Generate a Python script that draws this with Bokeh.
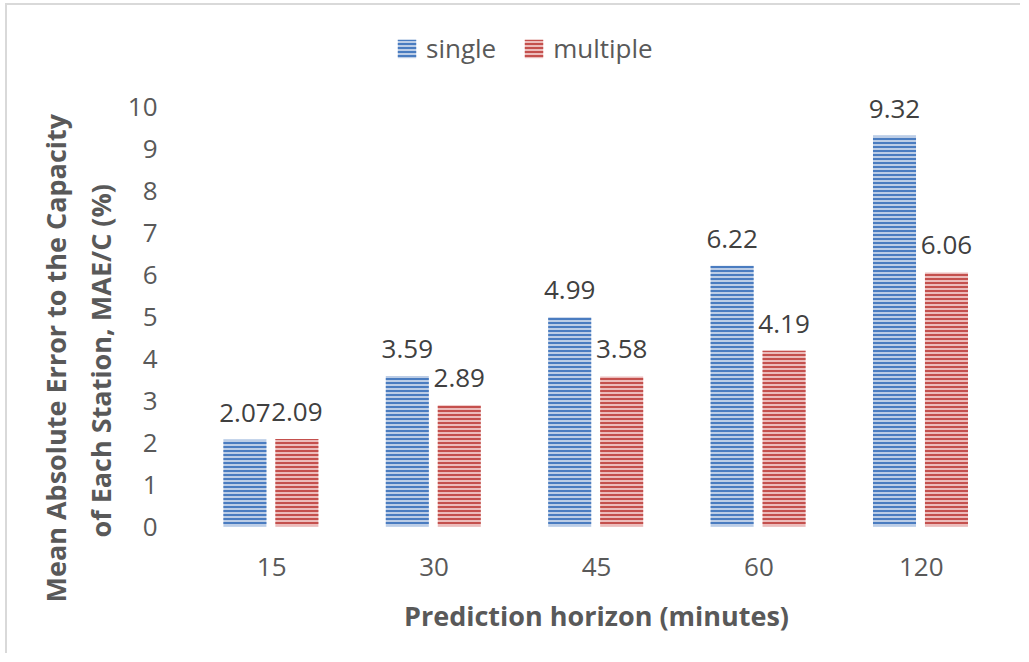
from bokeh.plotting import figure
from bokeh.models import (ColumnDataSource, FactorRange, Range1d, LabelSet, Legend,
                          LegendItem, Title, FixedTicker)
from bokeh.transform import dodge
from bokeh.core.properties import value
from bokeh.embed import file_html
from bokeh.resources import INLINE

categories = ["15", "30", "45", "60", "120"]
single = [2.07, 3.59, 4.99, 6.22, 9.32]
multiple = [2.09, 2.89, 3.58, 4.19, 6.06]
series_names = ["single", "multiple"]
y_ticks = [0, 1, 2, 3, 4, 5, 6, 7, 8, 9, 10]

FONT = "Open Sans"

src = ColumnDataSource(dict(
    cat=categories,
    single=single,
    multiple=multiple,
    single_txt=[f"{v:.2f}" for v in single],
    multiple_txt=[f"{v:.2f}" for v in multiple],
))

p = figure(width=1020, height=653, output_backend="svg", toolbar_location=None,
           x_range=FactorRange(*categories, range_padding=0), y_range=Range1d(0, 12),
           min_border_left=190, min_border_right=18, min_border_top=23, min_border_bottom=127)
p.x_range.factor_padding = 0

p.outline_line_color = None
p.xgrid.grid_line_color = None
p.ygrid.grid_line_color = None
p.border_fill_color = None
p.background_fill_color = None

blue_fill, blue_hatch = "#bccde6", "#4a7cc0"
red_fill, red_hatch = "#ecbcbb", "#c4504d"

r1 = p.vbar(x=dodge("cat", -0.165, range=p.x_range), top="single", width=0.265, source=src,
            fill_color=blue_fill, line_color=None, hatch_pattern="-", hatch_color=blue_hatch,
            hatch_scale=4, hatch_weight=2)
r2 = p.vbar(x=dodge("cat", 0.155, range=p.x_range), top="multiple", width=0.265, source=src,
            fill_color=red_fill, line_color=None, hatch_pattern="-", hatch_color=red_hatch,
            hatch_scale=4, hatch_weight=2)

for off, col in [(-0.165, "single_txt"), (0.155, "multiple_txt")]:
    top = col.replace("_txt", "")
    ls = LabelSet(x=dodge("cat", off, range=p.x_range), y=top, text=col, source=src,
                  text_align="center", text_baseline="alphabetic", y_offset=18,
                  text_font=value(FONT), text_font_size="26px", text_color="#404040")
    p.add_layout(ls)

# axes
for ax in (p.xaxis[0], p.yaxis[0]):
    ax.axis_line_color = None
    ax.major_tick_line_color = None
    ax.minor_tick_line_color = None
    ax.major_label_text_font = FONT
    ax.major_label_text_font_size = "26px"
    ax.major_label_text_color = "#595959"

p.yaxis.ticker = FixedTicker(ticks=y_ticks)
p.yaxis.major_label_standoff = 27
p.xaxis.major_label_standoff = 25
p.xaxis.axis_label = "Prediction horizon (minutes)"
p.xaxis.axis_label_text_font = FONT
p.xaxis.axis_label_text_font_style = "bold"
p.xaxis.axis_label_text_font_size = "27px"
p.xaxis.axis_label_text_color = "#595959"
p.xaxis.axis_label_standoff = 18

# y-axis title (two lines)
t2 = Title(text="of Each Station, MAE/C (%)", align="left", offset=-11,
           text_font=FONT, text_font_style="bold", text_font_size="27px",
           text_color="#595959", standoff=12)
t1 = Title(text="Mean Absolute Error to the Capacity", align="left", offset=-76,
           text_font=FONT, text_font_style="bold", text_font_size="27px",
           text_color="#595959", standoff=0)
p.add_layout(t2, "left")
p.add_layout(t1, "left")

legend = Legend(items=[LegendItem(label=series_names[0], renderers=[r1]),
                       LegendItem(label=series_names[1], renderers=[r2])],
                orientation="horizontal", location=(205, 460),
                glyph_width=23, glyph_height=23, label_standoff=8, spacing=26,
                padding=0, margin=0, border_line_color=None, background_fill_alpha=0,
                label_text_font=FONT, label_text_font_size="26px", label_text_color="#595959")
p.add_layout(legend, "center")

p.styles = {
    "background": ("linear-gradient(#d9d9d9,#d9d9d9) 5px 3px / 100% 2px no-repeat, "
                   "linear-gradient(#d9d9d9,#d9d9d9) 5px 3px / 2px 100% no-repeat, white"),
}

open("out.html", "w").write(file_html(p, INLINE))
